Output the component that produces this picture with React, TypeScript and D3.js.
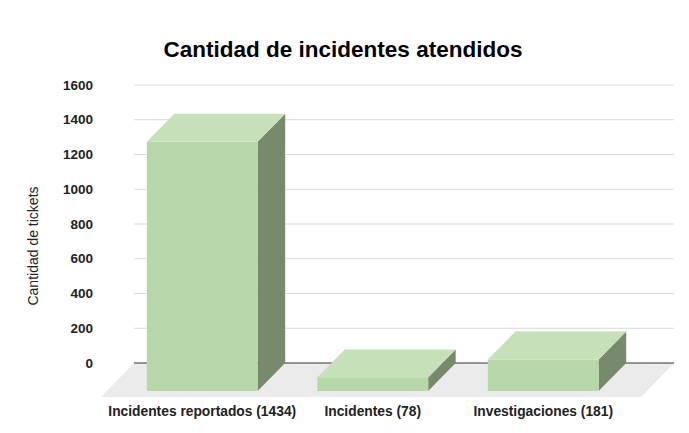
import React from "react";
import * as d3 from "d3";

const categories = ["Incidentes reportados (1434)", "Incidentes (78)", "Investigaciones (181)"];
const values = [1434, 78, 181];
const yTicks = [0, 200, 400, 600, 800, 1000, 1200, 1400, 1600];

const W = 689;
const H = 433;
const font = "'Liberation Sans', Arial, sans-serif";

// depth of the 3d effect
const bdx = 27.5;
const bdy = 28;
const fdx = 33;
const fdy = 34;

export default function App() {
  // y scale on the back plane
  const y = d3.scaleLinear().domain([0, 1600]).range([363, 85]);
  // x band on the front plane
  const x = d3
    .scaleBand<string>()
    .domain(categories)
    .range([117, 628.5])
    .paddingInner(0.35)
    .paddingOuter(0.175);

  const gridX0 = 134;
  const gridX1 = 674;
  const pts = (a: number[][]) => a.map((p) => p.join(",")).join(" ");

  return (
    <svg width={W} height={H} style={{ position: "absolute", left: 0, top: 0 }}>
      <rect width={W} height={H} fill="#fff" />
      <text x={343} y={57} textAnchor="middle" fontFamily={font} fontWeight="bold" fontSize={22.5} fill="#000">
        Cantidad de incidentes atendidos
      </text>

      {/* floor */}
      <polygon
        points={pts([
          [gridX0, y(0)],
          [gridX1, y(0)],
          [gridX1 - fdx, y(0) + fdy],
          [gridX0 - fdx, y(0) + fdy],
        ])}
        fill="#ebebeb"
      />

      {yTicks.map((t) => (
        <g key={t}>
          <line
            x1={gridX0}
            x2={gridX1}
            y1={y(t)}
            y2={y(t)}
            stroke={t === 0 ? "#333" : "#d9d9d9"}
            strokeWidth={1}
          />
          <text
            x={93}
            y={y(t)}
            dy="0.35em"
            textAnchor="end"
            fontFamily={font}
            fontWeight="bold"
            fontSize={13.5}
            fill="#222"
          >
            {t}
          </text>
        </g>
      ))}

      <text
        transform={`translate(38,246) rotate(-90)`}
        textAnchor="middle"
        fontFamily={font}
        fontSize={14}
        fill="#222"
      >
        Cantidad de tickets
      </text>

      {categories.map((c, i) => {
        const x0 = x(c)!;
        const x1 = x0 + x.bandwidth();
        const yb = y(0) + bdy;
        const yt = y(values[i]) + bdy;
        return (
          <g key={c}>
            <polygon
              points={pts([
                [x1, yt],
                [x1 + bdx, yt - bdy],
                [x1 + bdx, yb - bdy],
                [x1, yb],
              ])}
              fill="#778b6c"
            />
            <polygon
              points={pts([
                [x0, yt],
                [x0 + bdx, yt - bdy],
                [x1 + bdx, yt - bdy],
                [x1, yt],
              ])}
              fill="#c6e0b9"
            />
            <rect x={x0} y={yt} width={x1 - x0} height={yb - yt} fill="#b6d7a8" />
            <text
              x={(x0 + x1) / 2}
              y={416}
              textAnchor="middle"
              fontFamily={font}
              fontWeight="bold"
              fontSize={13.8}
              fill="#222"
            >
              {c}
            </text>
          </g>
        );
      })}
    </svg>
  );
}
